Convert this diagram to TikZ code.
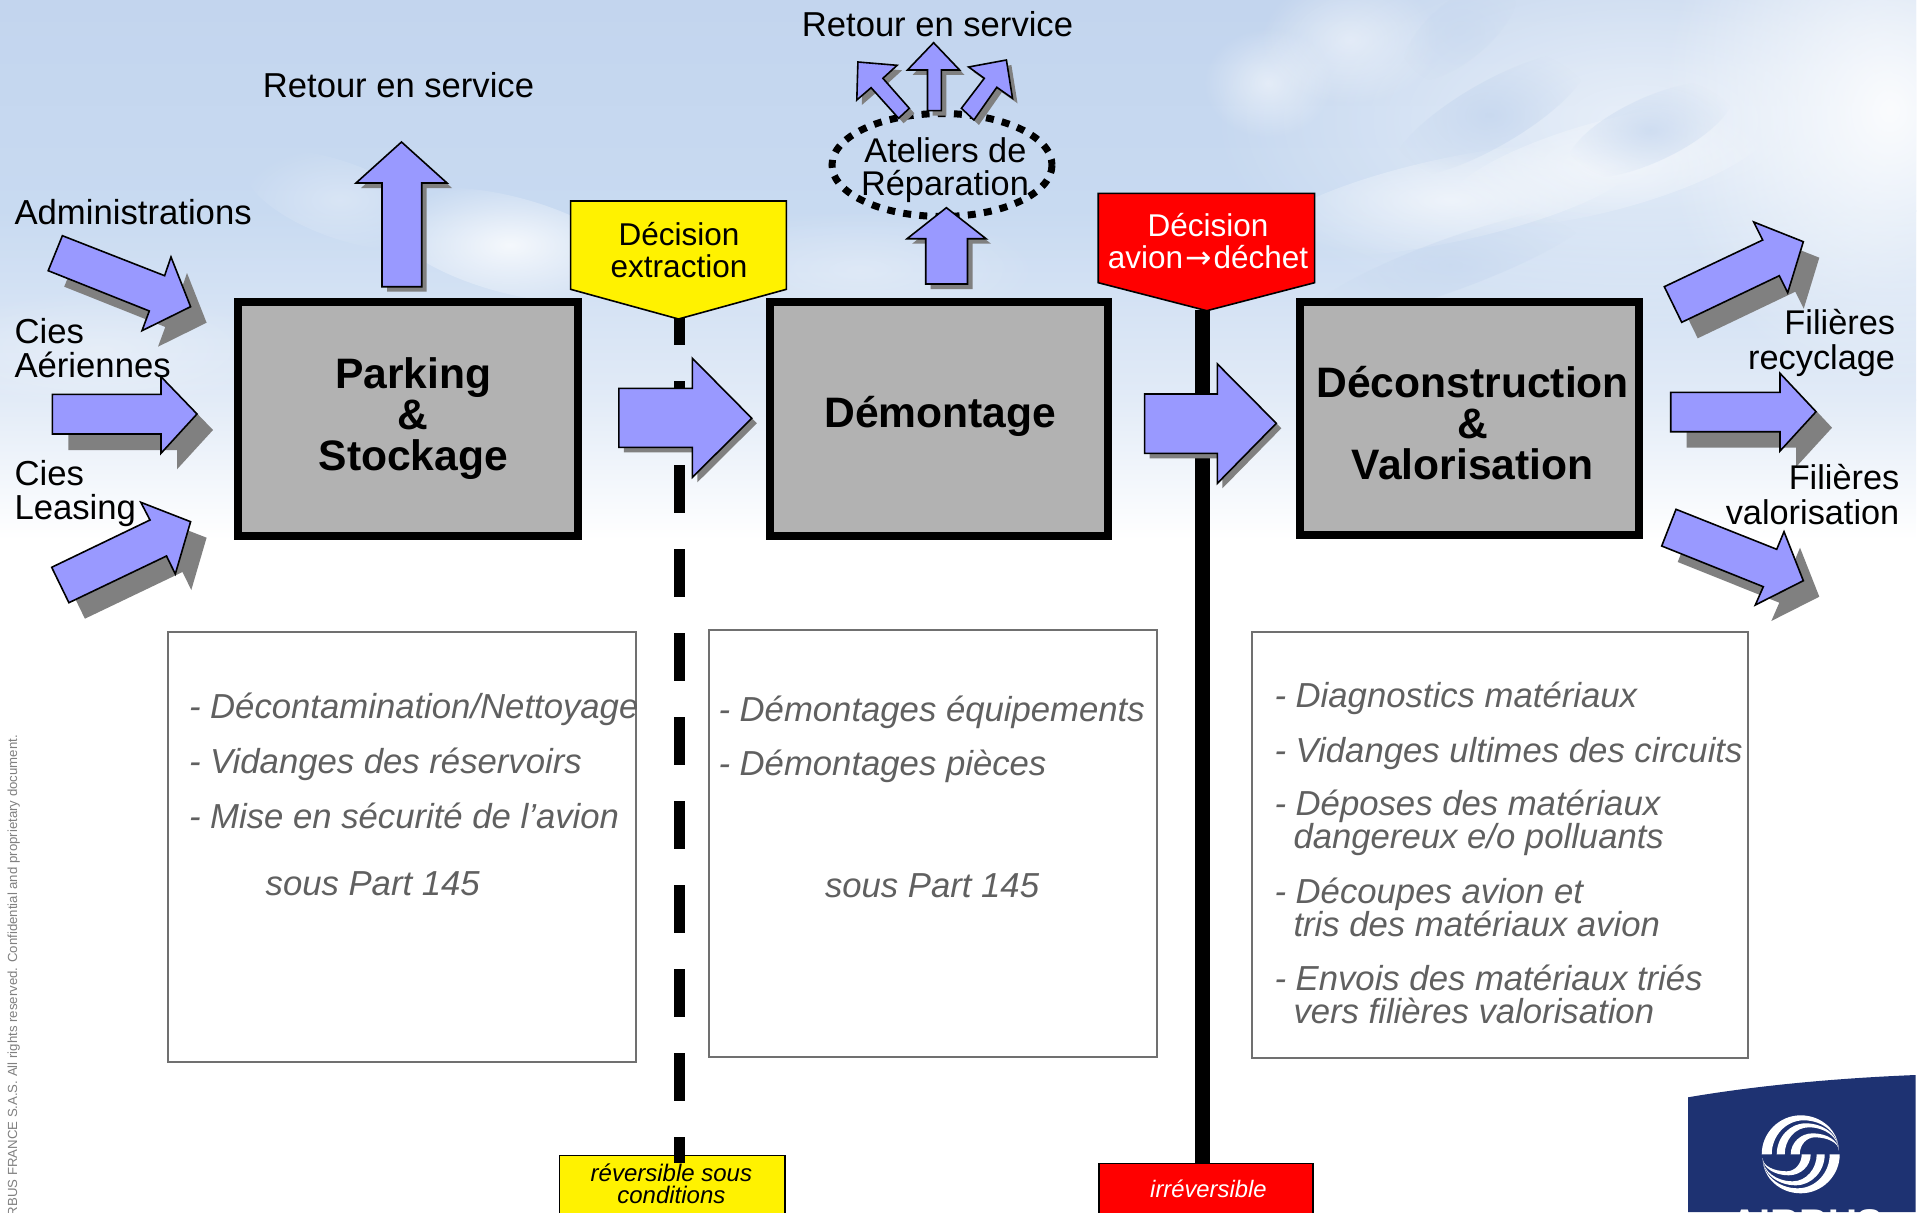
\documentclass[tikz,border=0pt]{standalone}
\usepackage{fontspec}
\setmainfont{Liberation Sans}
\newfontfamily\arrowfont{DejaVu Sans}
\usetikzlibrary{fadings}
\definecolor{skyA}{RGB}{195,213,238}
\definecolor{skyB}{RGB}{200,218,241}
\definecolor{skyC}{RGB}{226,235,247}
\definecolor{arrowblue}{RGB}{153,153,255}
\definecolor{shadowgrey}{RGB}{128,128,128}
\definecolor{boxgrey}{RGB}{178,178,178}
\definecolor{textgrey}{RGB}{96,96,96}
\definecolor{frameline}{RGB}{112,112,112}
\definecolor{airbusnavy}{RGB}{30,50,114}
\newcommand\fz[2]{\fontsize{#1}{#2}\selectfont}
\newcommand\fatarrow[2]{%
  \fill[shadowgrey,shift={(#1,#1)}] #2 -- cycle;
  \draw[arrowbody] #2 -- cycle;}
\tikzfading[name=puff,inner color=transparent!0,outer color=transparent!100]
\tikzset{
  x=1pt,y=-1pt,
  arrowbody/.style={fill=arrowblue,draw=black,line width=1.6pt,line join=miter},
  procbox/.style={draw=black,fill=boxgrey,line width=8pt,inner sep=0pt,outer sep=0pt},
  listbox/.style={draw=frameline,fill=white,line width=2pt,inner sep=0pt,outer sep=0pt},
  flag/.style={draw=black,line width=1.6pt},
  lbl/.style={inner sep=0pt,outer sep=0pt,font=\fz{34.7}{34},align=left,anchor=base west,yshift=-.7pt},
  rlbl/.style={inner sep=0pt,outer sep=0pt,font=\fz{34.3}{34},align=right,anchor=base east,yshift=-.7pt},
  title/.style={inner sep=0pt,outer sep=0pt,font=\fz{42.6}{41}\bfseries,align=center,anchor=base},
  item/.style={inner sep=0pt,outer sep=0pt,text=textgrey,font=\fz{34.7}{33.3}\itshape,align=left,anchor=base west,yshift=-.5pt},
  flagtext/.style={inner sep=0pt,outer sep=0pt,font=\fz{31.5}{31.5},align=center,anchor=base,yshift=-.7pt},
  cloud/.style={white,path fading=puff},
  blueback/.style={skyA,path fading=puff},
}
\begin{document}
\begin{tikzpicture}
\useasboundingbox (0,0) rectangle (1918,1212);
% sky
\shade[top color=skyA,bottom color=skyB] (0,0) rectangle (1916,211);
\shade[top color=skyB,bottom color=skyC] (0,210) rectangle (1916,400);
\shade[top color=skyC,bottom color=white] (0,399) rectangle (1916,540);
\begin{scope}
\clip (0,0) rectangle (1916,600);
\fill[cloud,opacity=.6] (1640,120) ellipse [x radius=430,y radius=210];
\fill[cloud,opacity=.9] (1890,110) ellipse [x radius=230,y radius=280];
\fill[cloud,opacity=.5] (1268,83) ellipse [x radius=65,y radius=55];
\fill[cloud,opacity=.45] (1350,40) ellipse [x radius=90,y radius=65];
\fill[cloud,opacity=.6,rotate around={12:(1450,200)}] (1450,200) ellipse [x radius=190,y radius=42];
\fill[cloud,opacity=.55,rotate around={15:(1610,165)}] (1610,165) ellipse [x radius=170,y radius=45];
\fill[blueback,opacity=.75,rotate around={30:(1490,115)}] (1490,115) ellipse [x radius=110,y radius=32];
\fill[blueback,opacity=.7,rotate around={25:(1650,130)}] (1650,130) ellipse [x radius=90,y radius=32];
\fill[blueback,opacity=.55,rotate around={20:(1450,265)}] (1450,265) ellipse [x radius=150,y radius=26];
\fill[blueback,opacity=.4,rotate around={40:(1460,30)}] (1460,30) ellipse [x radius=70,y radius=30];
\fill[cloud,opacity=.8,rotate around={-15:(510,245)}] (510,245) ellipse [x radius=130,y radius=48];
\fill[cloud,opacity=.3,rotate around={-20:(340,200)}] (340,200) ellipse [x radius=100,y radius=38];
\fill[cloud,opacity=.3] (100,350) ellipse [x radius=180,y radius=60];
\fill[cloud,opacity=.3] (860,270) ellipse [x radius=180,y radius=60];
\end{scope}
% footer text
\node[inner sep=0pt,anchor=base east,rotate=90,text=gray,font=\fz{13.2}{13}] (rights) at (17,735) {RBUS FRANCE S.A.S. All rights reserved. Confidential and proprietary document.};
% logo
\fill[airbusnavy] (1688,1097.3) .. controls (1760,1085) and (1840,1078) .. (1915.7,1075) -- (1915.7,1212) -- (1688,1212) -- cycle;
\foreach \ang in {0,180}{
\begin{scope}[shift={(1800.7,1154.3)},rotate=\ang]
\foreach \ro/\ri/\tto/\tti/\xo/\xi in {39/29/39/34/0/3, 24/16/31/27/5/8, 10/1/21/17/12/14}{
\fill[white] (-\ro,0) .. controls (-\ro,{-.55*\tto}) and ({\xo-.55*(\xo+\ro)},-\tto) .. (\xo,-\tto)
  .. controls ({\xo+.55*(38-\xo)},-\tto) and (38,{-.55*\tto-2}) .. (38,-4)
  .. controls (38,{-.55*\tti-2}) and ({\xi+.55*(38-\xi)},-\tti) .. (\xi,-\tti)
  .. controls ({\xi-.55*(\xi+\ri)},-\tti) and (-\ri,{-.55*\tti}) .. (-\ri,0) -- cycle;
}
\end{scope}}
\node[inner sep=0pt,anchor=base,text=white,font=\fz{40}{40}\bfseries] (airbus) at (1807,1237) {AIRBUS};
% list boxes
\node[listbox,minimum width=468.3pt,minimum height=429.4pt] (listA) at (401.85,847) {};
\node[listbox,minimum width=447.4pt,minimum height=427pt] (listB) at (933,843.5) {};
\node[listbox,minimum width=496.3pt,minimum height=426pt] (listC) at (1500.15,845.3) {};
\node[item] (a1) at (189,718.3) {- Décontamination/Nettoyage};
\node[item] (a2) at (189,773.3) {- Vidanges des réservoirs};
\node[item] (a3) at (189,828.3) {- Mise en sécurité de l’avion};
\node[item] (a4) at (265.7,895) {sous Part 145};
\node[item] (b1) at (718.5,720.7) {- Démontages équipements};
\node[item] (b2) at (718.5,775) {- Démontages pièces};
\node[item] (b3) at (825,896.7) {sous Part 145};
\node[item] (c1) at (1274.5,707.3) {- Diagnostics matériaux};
\node[item] (c2) at (1274.5,761.7) {- Vidanges ultimes des circuits};
\node[item] (c3) at (1274.5,815) {- Déposes des matériaux};
\node[item] (c3b) at (1293.5,848.3) {dangereux e/o polluants};
\node[item] (c4) at (1274.5,902.7) {- Découpes avion et};
\node[item] (c4b) at (1293.5,936) {tris des matériaux avion};
\node[item] (c5) at (1274.5,990) {- Envois des matériaux triés};
\node[item] (c5b) at (1293.5,1023.3) {vers filières valorisation};
% bottom flags
\node[flag,fill=yellow,minimum width=225.5pt,minimum height=58pt,inner sep=0pt] (revbox) at (672.15,1184.3) {};
\node[flag,fill=red,minimum width=214.3pt,minimum height=50pt,inner sep=0pt] (irrbox) at (1205.85,1188.3) {};
\node[inner sep=0pt,anchor=base,font=\fz{24}{22}\itshape] (revtxt) at (671.4,1181) {réversible sous};
\node[inner sep=0pt,anchor=base,font=\fz{24}{22}\itshape] (revtxtb) at (671.4,1203.5) {conditions};
\node[inner sep=0pt,anchor=base,text=white,font=\fz{23.8}{24}\itshape] (irrtxt) at (1208.4,1197.5) {irréversible};
% decision lines
\coordinate (yellowTip) at (679.3,318);
\coordinate (yellowFoot) at (679.3,1162.7);
\coordinate (redTip) at (1202,310);
\coordinate (redFoot) at (1202,1163);
\draw[line width=11.2pt,dash pattern=on 47.3pt off 36.7pt,dash phase=20.6pt] (yellowTip) -- (yellowFoot);
\draw[line width=15pt] (redTip) -- (redFoot);
% decision flags
\draw[flag,fill=yellow] (570.6,201) -- (786.4,201) -- (786.4,289.3) -- (678.5,319) -- (570.6,289.3) -- cycle;
\draw[flag,fill=red] (1098.2,193.3) -- (1314.6,193.3) -- (1314.6,282.7) -- (1206.8,310.7) -- (1098.2,282.7) -- cycle;
\node[flagtext] (yd) at (679,244.6) {Décision};
\node[flagtext] (ye) at (679,276.4) {extraction};
\node[flagtext,text=white] (rd) at (1208,236) {Décision};
\node[flagtext,text=white] (re) at (1208,267.3) {avion\kern2pt{\arrowfont→}\kern2pt déchet};
% process boxes
\node[procbox,minimum width=339.5pt,minimum height=233.7pt] (parking) at (407.95,419.15) {};
\node[procbox,minimum width=338pt,minimum height=233.7pt] (demontage) at (939,419.15) {};
\node[procbox,minimum width=338.7pt,minimum height=233.3pt] (deconstruction) at (1469.35,418.65) {};
\node[title] (p1) at (413.3,388.3) {Parking};
\node[title] (p2) at (413.3,429.3) {\&};
\node[title] (p3) at (413.3,470) {Stockage};
\node[title] (d1) at (940.4,427.3) {Démontage};
\node[title] (v1) at (1472.7,397.5) {Déconstruction};
\node[title] (v2) at (1472.7,438.5) {\&};
\node[title] (v3) at (1472.7,479.5) {Valorisation};
% repair ring
\draw[line width=7pt,dash pattern=on 8pt off 8.2pt] (942,165) ellipse [x radius=110,y radius=51.5];
% arrows
\fatarrow{16}{(62.4,235.7) -- (48.2,270.7) -- (149.3,311) -- (142,330.7) -- (190.6,306.7) -- (171,257) -- (164.6,275.7)}
\fatarrow{16}{(52.4,394.3) -- (52.4,434) -- (161,434) -- (161,453.3) -- (197,414) -- (161,376.7) -- (161,394.3)}
\fatarrow{16}{(51.7,567.3) -- (68.9,602.7) -- (166.5,556) -- (175.3,574) -- (190.6,521.7) -- (140.8,502.3) -- (150,520)}
\fatarrow{5}{(382,286.7) -- (421.7,286.7) -- (421.7,183) -- (447,183) -- (401.5,142) -- (356,183) -- (382,183)}
\fatarrow{5}{(925.7,284) -- (967.5,284) -- (967.5,238.7) -- (986,238.7) -- (946.4,207.7) -- (907.1,238.7) -- (925.7,238.7)}
\fatarrow{5}{(927.5,110.7) -- (941.4,110.7) -- (941.4,70) -- (959.6,70) -- (933.6,42.7) -- (907.5,70) -- (927.5,70)}
\fatarrow{5}{(909.3,108.3) -- (898.6,118.3) -- (871.1,87.7) -- (856.8,100) -- (857.9,62) -- (897.1,65.3) -- (882.9,78.3)}
\fatarrow{5}{(961.4,108.3) -- (973.9,120) -- (996.8,87.3) -- (1012.5,98.3) -- (1006.4,60) -- (968.6,67) -- (984.3,78.3)}
\fatarrow{5}{(618.8,388.3) -- (618.8,447.3) -- (692.4,447.3) -- (692.4,477.3) -- (751.8,418.3) -- (692.4,358.3) -- (692.4,388.3)}
\fatarrow{5}{(1144.6,394) -- (1144.6,453.3) -- (1217.4,453.3) -- (1217.4,483.3) -- (1276.3,423.3) -- (1217.4,364) -- (1217.4,394)}
\fatarrow{16}{(1664.3,286.7) -- (1681.7,322.3) -- (1779.3,275.7) -- (1787.7,292.7) -- (1803.3,241.7) -- (1753.7,222) -- (1762.7,240)}
\fatarrow{16}{(1670.7,392.3) -- (1670.7,431.7) -- (1780,431.7) -- (1780,451) -- (1816,411.7) -- (1780,373.3) -- (1780,392.3)}
\fatarrow{16}{(1676,509.3) -- (1661.7,546) -- (1763.3,586.7) -- (1755.3,605) -- (1803.3,580.7) -- (1784,531.7) -- (1776.7,549.3)}
% labels
\node[lbl] (adm) at (14.5,223.3) {Administrations};
\node[lbl] (cies1) at (14.5,342.7) {Cies};
\node[lbl] (cies1b) at (14.5,376.7) {Aériennes};
\node[lbl] (cies2) at (14.5,485) {Cies};
\node[lbl] (cies2b) at (14.5,518.3) {Leasing};
\node[lbl,font=\fz{34.6}{35},anchor=base] (ret1) at (398.5,97) {Retour en service};
\node[lbl,font=\fz{34.6}{35},anchor=base] (ret2) at (937.5,36) {Retour en service};
\node[lbl,anchor=base,font=\fz{34.3}{33}] (at1) at (945.4,161.7) {Ateliers de};
\node[lbl,anchor=base,font=\fz{34.3}{33}] (at2) at (945,194.3) {Réparation};
\node[rlbl] (f1) at (1895,334) {Filières};
\node[rlbl] (f1b) at (1895,368.3) {recyclage};
\node[rlbl] (f2) at (1899.3,489) {Filières};
\node[rlbl] (f2b) at (1899.3,523.3) {valorisation};
\end{tikzpicture}
\end{document}
